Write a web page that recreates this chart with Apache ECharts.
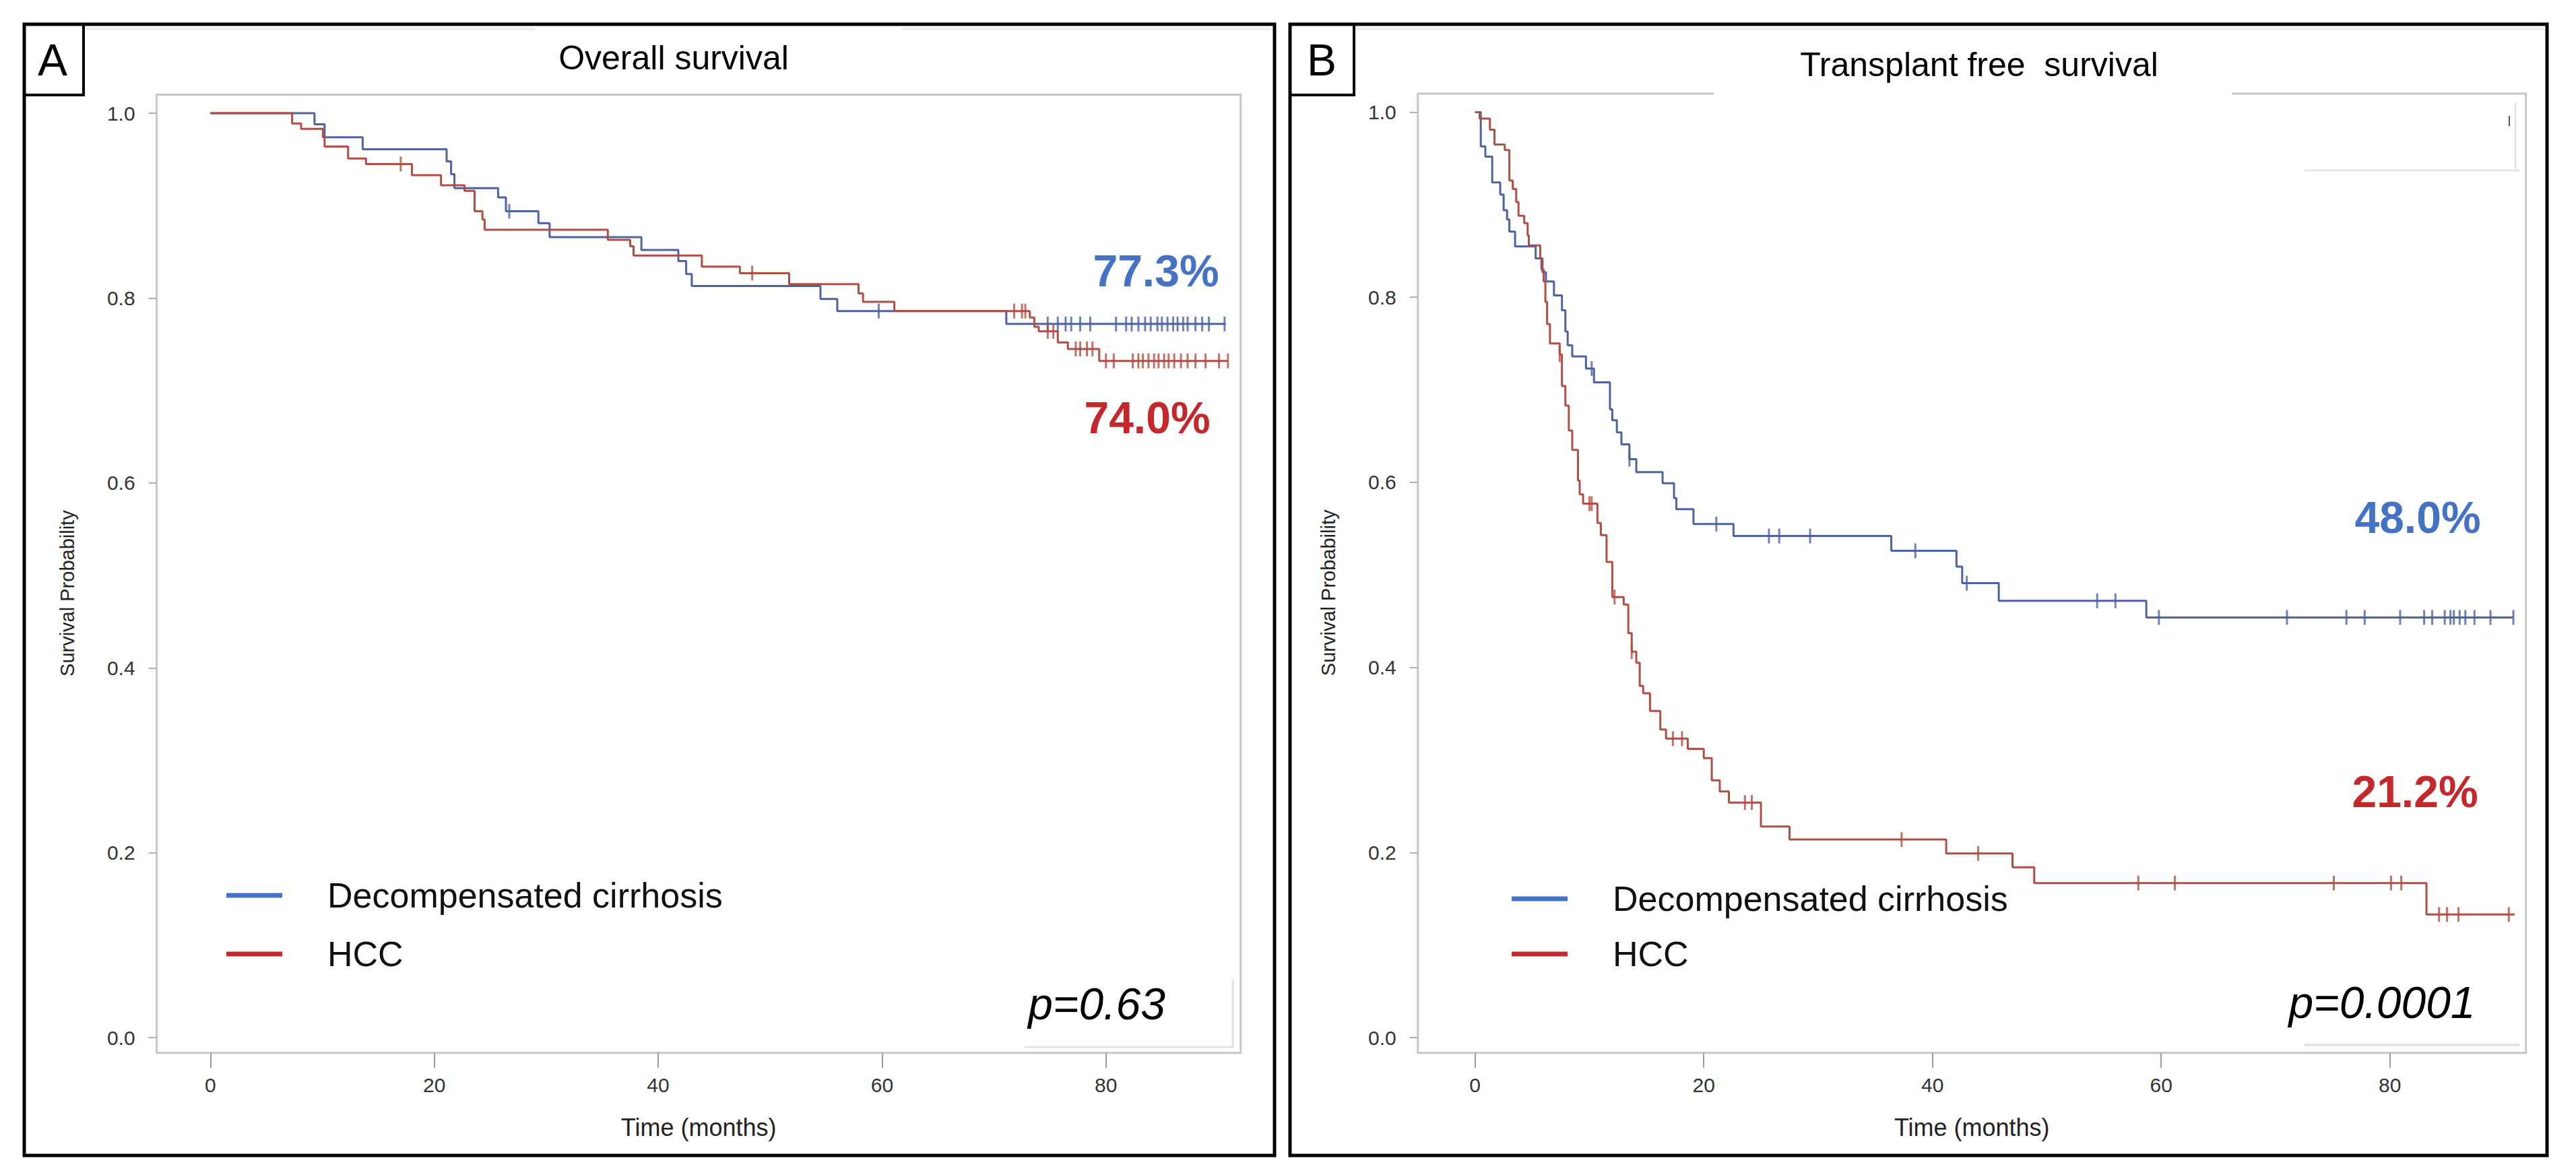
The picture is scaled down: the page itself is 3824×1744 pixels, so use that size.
<!DOCTYPE html>
<html><head><meta charset="utf-8">
<script src="https://cdn.jsdelivr.net/npm/echarts@6/dist/echarts.min.js"></script>
<style>html,body{margin:0;padding:0;background:#fff}#c{width:3824px;height:1744px}</style>
</head><body><div id="c"></div>
<script>
// ---------- data ----------
const xTicks = [0, 20, 40, 60, 80];
const yTicks = [0, 0.2, 0.4, 0.6, 0.8, 1.0];
const groupNames = ['Decompensated cirrhosis', 'HCC'];
const panelTitles = ['Overall survival', 'Transplant free  survival'];
const panelLetters = ['A', 'B'];
const endLabels = [['77.3%', '74.0%'], ['48.0%', '21.2%']];
const pValues = ['p=0.63', 'p=0.0001'];

// Overall survival - decompensated cirrhosis
const osDecompTime = [0, 9.3, 10.2, 13.6, 21.1, 21.5, 21.8, 25.7, 26.4, 29.3, 30.3, 38.5, 41.8, 42.5, 43.0, 54.5, 56.0, 71.1, 90.7];
const osDecompSurv = [1.0, 0.988, 0.974, 0.961, 0.948, 0.934, 0.919, 0.909, 0.894, 0.881, 0.866, 0.852, 0.840, 0.826, 0.813, 0.799, 0.786, 0.772, 0.772];
const osDecompCensor = [26.7, 59.7, 74.8, 75.7, 76.4, 76.9, 77.7, 78.6, 80.9, 81.8, 82.3, 82.9, 83.5, 84.0, 84.6, 85.0, 85.5, 86.0, 86.4, 86.9, 87.3, 88.0, 88.6, 89.2, 90.6];
// Overall survival - HCC
const osHccTime = [0, 7.3, 8.1, 10.05, 10.2, 12.3, 13.9, 18.0, 20.6, 22.7, 23.6, 24.3, 24.5, 35.5, 37.5, 37.8, 43.9, 47.3, 51.7, 57.9, 58.3, 61.1, 73.2, 73.6, 74.0, 75.7, 76.6, 79.4, 90.9];
const osHccSurv = [1.0, 0.989, 0.983, 0.974, 0.964, 0.951, 0.945, 0.933, 0.922, 0.916, 0.894, 0.885, 0.874, 0.863, 0.856, 0.846, 0.834, 0.827, 0.815, 0.805, 0.796, 0.786, 0.779, 0.769, 0.764, 0.752, 0.745, 0.732, 0.732];
const osHccCensor = [17.0, 48.4, 71.8, 72.5, 72.8, 74.8, 75.3, 77.3, 77.7, 78.3, 78.8, 80.0, 80.7, 82.4, 82.9, 83.3, 83.8, 84.3, 84.7, 85.2, 85.6, 86.1, 86.7, 87.3, 88.0, 88.9, 90.1, 90.9];

// Transplant free survival - decompensated cirrhosis
const tfsDecompTime = [0, 0.5, 0.9, 1.5, 2.2, 2.5, 2.8, 3.0, 3.5, 5.3, 5.9, 6.2, 6.9, 7.6, 7.9, 8.1, 8.5, 9.7, 10.4, 11.8, 12.0, 12.4, 12.8, 13.5, 14.1, 16.4, 17.4, 17.6, 19.1, 22.6, 36.4, 42.1, 42.6, 45.8, 58.7, 90.8];
const tfsDecompSurv = [1.0, 0.963, 0.952, 0.924, 0.911, 0.894, 0.884, 0.871, 0.855, 0.842, 0.827, 0.817, 0.802, 0.786, 0.763, 0.748, 0.736, 0.723, 0.708, 0.679, 0.667, 0.654, 0.641, 0.625, 0.611, 0.599, 0.583, 0.571, 0.555, 0.542, 0.526, 0.509, 0.491, 0.472, 0.454, 0.454];
const tfsDecompCensor = [10.2, 13.5, 21.1, 25.7, 26.6, 29.3, 38.5, 43.0, 54.4, 56.0, 59.8, 71.0, 76.2, 77.8, 80.9, 83.0, 83.7, 84.8, 85.3, 85.6, 86.1, 86.6, 87.4, 88.8, 90.8];
// Transplant free survival - HCC
const tfsHccTime = [0, 0.4, 1.3, 1.7, 2.6, 3.0, 3.3, 3.6, 3.8, 4.3, 4.6, 4.7, 5.7, 5.8, 6.0, 6.15, 6.3, 6.55, 7.4, 7.6, 7.9, 8.2, 8.5, 9.0, 9.15, 9.45, 10.7, 11.0, 11.5, 12.0, 13.0, 13.4, 13.7, 14.1, 14.4, 14.7, 15.3, 16.2, 16.7, 18.6, 20.0, 20.7, 21.4, 22.2, 25.0, 27.5, 41.2, 47.0, 48.9, 83.2, 90.9];
const tfsHccSurv = [1.0, 0.993, 0.981, 0.965, 0.959, 0.926, 0.917, 0.903, 0.888, 0.880, 0.867, 0.856, 0.842, 0.830, 0.817, 0.795, 0.771, 0.750, 0.738, 0.704, 0.683, 0.656, 0.635, 0.602, 0.587, 0.577, 0.556, 0.543, 0.514, 0.476, 0.468, 0.437, 0.417, 0.405, 0.380, 0.372, 0.353, 0.333, 0.323, 0.312, 0.302, 0.278, 0.266, 0.254, 0.228, 0.214, 0.199, 0.184, 0.167, 0.133, 0.133];
const tfsHccCensor = [7.4, 10.0, 10.2, 12.2, 13.7, 17.3, 18.1, 23.6, 24.2, 37.3, 44.0, 58.0, 61.2, 75.1, 80.1, 81.0, 84.3, 85.0, 86.0, 90.4];

// ---------- helpers ----------
const BLUE_LINE = '#4d62a0', RED_LINE = '#b04e44';
const BLUE_TXT = '#4472C4', RED_TXT = '#C4282C';
const FONT = '"Liberation Sans", Arial, sans-serif';
function pairs(t, s) { return t.map((v, i) => [v, s[i]]); }
function censorPts(t, s, c) {
  return c.map(ct => { let v = s[0]; for (let i = 0; i < t.length; i++) { if (t[i] <= ct) v = s[i]; } return [ct, v]; });
}

const panels = [
  { grid: { left: 232.6, right: 1982.2, top: 140.6, bottom: 181.3 }, xMin: -4.8, xMax: 92.04,
    d: [[osDecompTime, osDecompSurv, osDecompCensor], [osHccTime, osHccSurv, osHccCensor]] },
  { grid: { left: 2104.8, right: 74.3, top: 139, bottom: 181.3 }, xMin: -5.0, xMax: 91.9,
    d: [[tfsDecompTime, tfsDecompSurv, tfsDecompCensor], [tfsHccTime, tfsHccSurv, tfsHccCensor]] }
];

const grid = [], xAxis = [], yAxis = [], series = [];
panels.forEach((p, k) => {
  grid.push(Object.assign({ show: true, borderColor: '#c6c6c6', borderWidth: 3, backgroundColor: 'transparent' }, p.grid));
  xAxis.push({
    type: 'value', gridIndex: k, min: p.xMin, max: p.xMax,
    axisLine: { show: false, onZero: false },
    axisTick: { show: true, customValues: xTicks, length: 22, lineStyle: { color: '#9a9a9a', width: 2 } },
    axisLabel: { customValues: xTicks, margin: 33, fontSize: 30, color: '#333', fontFamily: FONT },
    splitLine: { show: false },
    name: 'Time (months)', nameLocation: 'middle', nameGap: 93,
    nameTextStyle: { fontSize: 36, color: '#222', fontFamily: FONT }
  });
  yAxis.push({
    type: 'value', gridIndex: k, min: -0.0165, max: 1.02,
    axisLine: { show: false, onZero: false },
    axisTick: { show: true, customValues: yTicks, length: 12, lineStyle: { color: '#b0b0b0', width: 2 } },
    axisLabel: { customValues: yTicks, margin: 32, fontSize: 30, color: '#333', fontFamily: FONT, formatter: v => v.toFixed(1) },
    splitLine: { show: false },
    name: 'Survival Probability', nameLocation: 'middle', nameRotate: 90, nameGap: 118,
    nameTextStyle: { fontSize: 29, color: '#222', fontFamily: FONT, padding: [0, 58, 0, 0] }
  });
  const cols = [BLUE_LINE, RED_LINE];
  p.d.forEach((g, j) => {
    series.push({
      type: 'line', name: groupNames[j], xAxisIndex: k, yAxisIndex: k, step: 'end',
      data: pairs(g[0], g[1]), showSymbol: false, symbol: 'none', z: 3,
      lineStyle: { width: 3, color: cols[j] }, itemStyle: { color: cols[j] }
    });
    series.push({
      type: 'scatter', name: groupNames[j] + ' (censored)', xAxisIndex: k, yAxisIndex: k,
      data: censorPts(g[0], g[1], g[2]), symbol: 'rect', symbolSize: [3, 22], z: 4,
      itemStyle: { color: cols[j] }
    });
  });
});

function legendFor(left, top, gap) {
  return {
    left: left, top: top, orient: 'vertical', icon: 'rect', itemWidth: 83, itemHeight: 7, itemGap: gap,
    selectedMode: false,
    textStyle: { fontSize: 52, lineHeight: 52, color: '#111', fontFamily: FONT, padding: [0, 0, 0, 62] },
    data: [{ name: groupNames[0], itemStyle: { color: BLUE_TXT } }, { name: groupNames[1], itemStyle: { color: RED_TXT } }]
  };
}

function txt(x, y, text, opts) {
  return { type: 'text', x: x, y: y, z: 120, style: Object.assign({ text: text, align: 'center', verticalAlign: 'middle', fontFamily: FONT, fill: '#000' }, opts) };
}
function box(x, y, w, h, lw, stroke) {
  return { type: 'rect', z: 110, shape: { x: x, y: y, width: w, height: h }, style: { fill: 'none', stroke: stroke || '#000', lineWidth: lw } };
}
function seg(x1, y1, x2, y2, color, w) {
  return { type: 'line', z: 105, shape: { x1: x1, y1: y1, x2: x2, y2: y2 }, style: { stroke: color, lineWidth: w } };
}

const graphic = [
  // faint frame remnants
  seg(127, 43, 794, 43, '#ececec', 4), seg(1339, 43, 1888, 43, '#ececec', 4),
  seg(2010, 43, 3777, 43, '#ececec', 4),
  seg(1830, 1454, 1830, 1554, '#e2e2e2', 3), seg(1521, 1554, 1832, 1554, '#e2e2e2', 3),
  seg(3421, 1551, 3740, 1551, '#e2e2e2', 4),
  seg(3734, 152, 3734, 253, '#e6e6e6', 3), seg(3421, 253, 3740, 253, '#e6e6e6', 3),
  seg(3725, 172, 3725, 187, '#555', 2),
  // white gap in frame behind title B
  { type: 'rect', z: 100, shape: { x: 2544, y: 128, width: 769, height: 24 }, style: { fill: '#fff' } },
  // outer boxes
  box(36, 36, 1856, 1679, 5), box(1915, 36, 1866, 1679, 5),
  box(36, 36, 88, 105, 4), box(1915, 36, 95, 105, 4),
  txt(78, 89, panelLetters[0], { fontSize: 66 }), txt(1962, 89, panelLetters[1], { fontSize: 66 }),
  txt(1000, 86, panelTitles[0], { fontSize: 50 }), txt(2938, 96, panelTitles[1], { fontSize: 50 }),
  txt(1716, 402, endLabels[0][0], { fontSize: 66, fontWeight: 'bold', fill: BLUE_TXT }),
  txt(1703, 620, endLabels[0][1], { fontSize: 66, fontWeight: 'bold', fill: RED_TXT }),
  txt(3589, 768, endLabels[1][0], { fontSize: 66, fontWeight: 'bold', fill: BLUE_TXT }),
  txt(3585, 1175, endLabels[1][1], { fontSize: 66, fontWeight: 'bold', fill: RED_TXT }),
  txt(1628, 1490, pValues[0], { fontSize: 66, fontStyle: 'italic' }),
  txt(3536, 1488, pValues[1], { fontSize: 66, fontStyle: 'italic' })
];

const chart = echarts.init(document.getElementById('c'), null, { renderer: 'svg' });
chart.setOption({
  animation: false,
  backgroundColor: '#fff',
  grid: grid, xAxis: xAxis, yAxis: yAxis, series: series,
  legend: [legendFor(331, 1298, 35), legendFor(2239, 1303, 30)],
  graphic: graphic
});
</script></body></html>
